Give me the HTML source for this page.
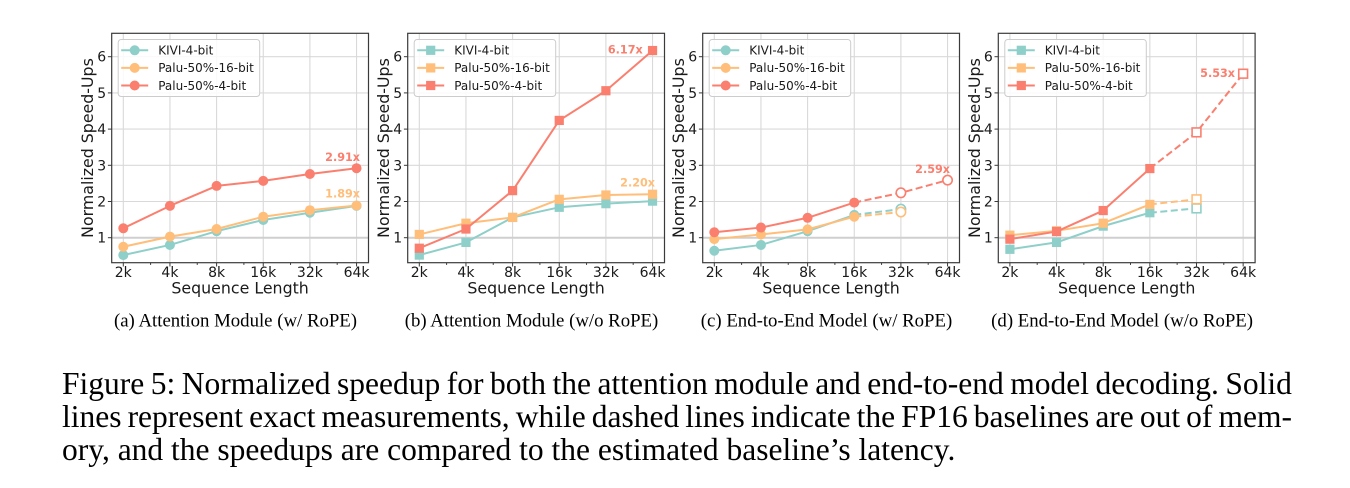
<!DOCTYPE html>
<html>
<head>
<meta charset="utf-8">
<style>
  html, body { margin:0; padding:0; background:#fff; }
  body { width:1350px; height:488px; position:relative; overflow:hidden; }
  svg { position:absolute; left:0; top:0; }
  .cap { position:absolute; left:62px; width:1230px; font-family:"Liberation Serif", serif; font-size:31.5px; line-height:31.5px; color:#000; white-space:nowrap; }
  .just { display:flex; justify-content:space-between; }
  .tick { font-family:"DejaVu Sans", "Liberation Sans", sans-serif; font-size:14px; fill:#1a1a1a; }
  .lab { font-family:"DejaVu Sans", "Liberation Sans", sans-serif; font-size:15.8px; fill:#1a1a1a; }
  .leg { font-family:"DejaVu Sans", "Liberation Sans", sans-serif; font-size:12px; fill:#1a1a1a; }
  .val { font-family:"DejaVu Sans", "Liberation Sans", sans-serif; font-size:11.2px; font-weight:bold; }
  .sub { font-family:"Liberation Serif", serif; font-size:18.8px; fill:#000; }
  .grid { stroke:#d9d9d9; stroke-width:1.1; fill:none; }
  .spine { stroke:#3a3a3a; stroke-width:1.2; fill:none; }
  .tk { stroke:#3a3a3a; stroke-width:1; }
  .k { stroke:#8ECFC9; }
  .o { stroke:#FFBE7A; }
  .r { stroke:#FA7F6F; }
  .ln { fill:none; stroke-width:2; stroke-linejoin:round; }
  .ds { fill:none; stroke-width:2; stroke-dasharray:7 3.5; }
</style>
</head>
<body>
<svg width="1350" height="488" viewBox="0 0 1350 488" xmlns="http://www.w3.org/2000/svg">
  <defs>
    <g id="frame">
      <line class="grid" x1="11.6" y1="33.3" x2="11.6" y2="262.7"/>
      <line class="grid" x1="58.25" y1="33.3" x2="58.25" y2="262.7"/>
      <line class="grid" x1="104.9" y1="33.3" x2="104.9" y2="262.7"/>
      <line class="grid" x1="151.55" y1="33.3" x2="151.55" y2="262.7"/>
      <line class="grid" x1="198.2" y1="33.3" x2="198.2" y2="262.7"/>
      <line class="grid" x1="244.85" y1="33.3" x2="244.85" y2="262.7"/>
      <line class="grid" x1="0" y1="237.7" x2="256.8" y2="237.7" style="stroke:#cfcfcf;stroke-width:2"/>
      <line class="grid" x1="0" y1="201.5" x2="256.8" y2="201.5"/>
      <line class="grid" x1="0" y1="165.3" x2="256.8" y2="165.3"/>
      <line class="grid" x1="0" y1="129.1" x2="256.8" y2="129.1"/>
      <line class="grid" x1="0" y1="92.9" x2="256.8" y2="92.9"/>
      <line class="grid" x1="0" y1="56.7" x2="256.8" y2="56.7"/>
      <line class="tk" x1="11.6" y1="262.7" x2="11.6" y2="266.5"/>
      <line class="tk" x1="58.25" y1="262.7" x2="58.25" y2="266.5"/>
      <line class="tk" x1="104.9" y1="262.7" x2="104.9" y2="266.5"/>
      <line class="tk" x1="151.55" y1="262.7" x2="151.55" y2="266.5"/>
      <line class="tk" x1="198.2" y1="262.7" x2="198.2" y2="266.5"/>
      <line class="tk" x1="244.85" y1="262.7" x2="244.85" y2="266.5"/>
      <line class="tk" x1="38.89" y1="262.7" x2="38.89" y2="264.9"/>
      <line class="tk" x1="85.54" y1="262.7" x2="85.54" y2="264.9"/>
      <line class="tk" x1="132.19" y1="262.7" x2="132.19" y2="264.9"/>
      <line class="tk" x1="178.84" y1="262.7" x2="178.84" y2="264.9"/>
      <line class="tk" x1="225.49" y1="262.7" x2="225.49" y2="264.9"/>
      <line class="tk" x1="-3.8" y1="237.7" x2="0" y2="237.7"/>
      <line class="tk" x1="-3.8" y1="201.5" x2="0" y2="201.5"/>
      <line class="tk" x1="-3.8" y1="165.3" x2="0" y2="165.3"/>
      <line class="tk" x1="-3.8" y1="129.1" x2="0" y2="129.1"/>
      <line class="tk" x1="-3.8" y1="92.9" x2="0" y2="92.9"/>
      <line class="tk" x1="-3.8" y1="56.7" x2="0" y2="56.7"/>
      <rect class="spine" x="0" y="33.3" width="256.8" height="229.4"/>
      <text class="tick" x="11.6" y="277" text-anchor="middle">2k</text>
      <text class="tick" x="58.25" y="277" text-anchor="middle">4k</text>
      <text class="tick" x="104.9" y="277" text-anchor="middle">8k</text>
      <text class="tick" x="151.55" y="277" text-anchor="middle">16k</text>
      <text class="tick" x="198.2" y="277" text-anchor="middle">32k</text>
      <text class="tick" x="244.85" y="277" text-anchor="middle">64k</text>
      <text class="tick" x="-5.5" y="242.7" text-anchor="end">1</text>
      <text class="tick" x="-5.5" y="206.5" text-anchor="end">2</text>
      <text class="tick" x="-5.5" y="170.3" text-anchor="end">3</text>
      <text class="tick" x="-5.5" y="134.1" text-anchor="end">4</text>
      <text class="tick" x="-5.5" y="97.9" text-anchor="end">5</text>
      <text class="tick" x="-5.5" y="61.7" text-anchor="end">6</text>
      <text class="lab" x="128.4" y="293.5" text-anchor="middle">Sequence Length</text>
      <text class="lab" transform="translate(-18.5,148) rotate(-90)" text-anchor="middle">Normalized Speed-Ups</text>
      <rect x="6.5" y="39.5" width="141.5" height="57" rx="3" ry="3" fill="#ffffff" fill-opacity="0.85" stroke="#cccccc" stroke-width="1"/>
      <line class="k" x1="9.5" y1="50.3" x2="36.5" y2="50.3" stroke-width="2"/>
      <line class="o" x1="9.5" y1="67.9" x2="36.5" y2="67.9" stroke-width="2"/>
      <line class="r" x1="9.5" y1="85.5" x2="36.5" y2="85.5" stroke-width="2"/>
      <text class="leg" x="46.5" y="54.6">KIVI-4-bit</text>
      <text class="leg" x="46.5" y="72.2">Palu-50%-16-bit</text>
      <text class="leg" x="46.5" y="89.8">Palu-50%-4-bit</text>
    </g>
  </defs>

  <!-- Panel a -->
  <g transform="translate(111.7,0)">
    <use href="#frame"/>
    <circle cx="23" cy="50.3" r="5" fill="#8ECFC9"/>
    <circle cx="23" cy="67.9" r="5" fill="#FFBE7A"/>
    <circle cx="23" cy="85.5" r="5" fill="#FA7F6F"/>
    <polyline class="ln k" points="11.6,255.08 58.25,244.94 104.9,231.18 151.55,219.96 198.2,212.72 244.85,205.84"/>
    <g fill="#8ECFC9">
      <circle cx="11.6" cy="255.08" r="5"/><circle cx="58.25" cy="244.94" r="5"/><circle cx="104.9" cy="231.18" r="5"/>
      <circle cx="151.55" cy="219.96" r="5"/><circle cx="198.2" cy="212.72" r="5"/><circle cx="244.85" cy="205.84" r="5"/>
    </g>
    <polyline class="ln o" points="11.6,246.75 58.25,236.61 104.9,229.01 151.55,216.7 198.2,210.19 244.85,205.48"/>
    <g fill="#FFBE7A">
      <circle cx="11.6" cy="246.75" r="5"/><circle cx="58.25" cy="236.61" r="5"/><circle cx="104.9" cy="229.01" r="5"/>
      <circle cx="151.55" cy="216.7" r="5"/><circle cx="198.2" cy="210.19" r="5"/><circle cx="244.85" cy="205.48" r="5"/>
    </g>
    <polyline class="ln r" points="11.6,228.29 58.25,205.84 104.9,185.93 151.55,180.87 198.2,173.99 244.85,168.2"/>
    <g fill="#FA7F6F">
      <circle cx="11.6" cy="228.29" r="5"/><circle cx="58.25" cy="205.84" r="5"/><circle cx="104.9" cy="185.93" r="5"/>
      <circle cx="151.55" cy="180.87" r="5"/><circle cx="198.2" cy="173.99" r="5"/><circle cx="244.85" cy="168.2" r="5"/>
    </g>
    <text class="val" x="248.3" y="161" text-anchor="end" fill="#FA7F6F">2.91x</text>
    <text class="val" x="248.3" y="197.5" text-anchor="end" fill="#FFBE7A">1.89x</text>
    <text class="sub" x="123.8" y="326.5" text-anchor="middle">(a) Attention Module (w/ RoPE)</text>
  </g>

  <!-- Panel b -->
  <g transform="translate(407.7,0)">
    <use href="#frame"/>
    <rect x="18.4" y="45.7" width="9.2" height="9.2" fill="#8ECFC9"/>
    <rect x="18.4" y="63.3" width="9.2" height="9.2" fill="#FFBE7A"/>
    <rect x="18.4" y="80.9" width="9.2" height="9.2" fill="#FA7F6F"/>
    <polyline class="ln k" points="11.6,255.08 58.25,242.41 104.9,217.43 151.55,207.29 198.2,203.67 244.85,201.14"/>
    <g fill="#8ECFC9">
      <rect x="7" y="250.48" width="9.2" height="9.2"/><rect x="53.65" y="237.81" width="9.2" height="9.2"/><rect x="100.3" y="212.83" width="9.2" height="9.2"/>
      <rect x="146.95" y="202.69" width="9.2" height="9.2"/><rect x="193.6" y="199.07" width="9.2" height="9.2"/><rect x="240.25" y="196.54" width="9.2" height="9.2"/>
    </g>
    <polyline class="ln o" points="11.6,234.44 58.25,223.22 104.9,217.43 151.55,199.33 198.2,195 244.85,194.26"/>
    <g fill="#FFBE7A">
      <rect x="7" y="229.84" width="9.2" height="9.2"/><rect x="53.65" y="218.62" width="9.2" height="9.2"/><rect x="100.3" y="212.83" width="9.2" height="9.2"/>
      <rect x="146.95" y="194.73" width="9.2" height="9.2"/><rect x="193.6" y="190.4" width="9.2" height="9.2"/><rect x="240.25" y="189.66" width="9.2" height="9.2"/>
    </g>
    <polyline class="ln r" points="11.6,248.2 58.25,229.01 104.9,190.64 151.55,120.41 198.2,90.73 244.85,50.55"/>
    <g fill="#FA7F6F">
      <rect x="7" y="243.6" width="9.2" height="9.2"/><rect x="53.65" y="224.41" width="9.2" height="9.2"/><rect x="100.3" y="186.04" width="9.2" height="9.2"/>
      <rect x="146.95" y="115.81" width="9.2" height="9.2"/><rect x="193.6" y="86.13" width="9.2" height="9.2"/><rect x="240.25" y="45.95" width="9.2" height="9.2"/>
    </g>
    <text class="val" x="235" y="53.3" text-anchor="end" fill="#FA7F6F">6.17x</text>
    <text class="val" x="247.3" y="186.5" text-anchor="end" fill="#FFBE7A">2.20x</text>
    <text class="sub" x="123.8" y="326.5" text-anchor="middle">(b) Attention Module (w/o RoPE)</text>
  </g>

  <!-- Panel c -->
  <g transform="translate(702.7,0)">
    <use href="#frame"/>
    <circle cx="23" cy="50.3" r="5" fill="#8ECFC9"/>
    <circle cx="23" cy="67.9" r="5" fill="#FFBE7A"/>
    <circle cx="23" cy="85.5" r="5" fill="#FA7F6F"/>
    <polyline class="ln k" points="11.6,250.73 58.25,244.94 104.9,231.18 151.55,214.89"/>
    <line class="ds k" x1="151.55" y1="214.89" x2="198.2" y2="209.1"/>
    <g fill="#8ECFC9">
      <circle cx="11.6" cy="250.73" r="5"/><circle cx="58.25" cy="244.94" r="5"/><circle cx="104.9" cy="231.18" r="5"/><circle cx="151.55" cy="214.89" r="5"/>
    </g>
    <circle cx="198.2" cy="209.1" r="4.7" fill="#fff" stroke="#8ECFC9" stroke-width="1.6"/>
    <polyline class="ln o" points="11.6,239.15 58.25,234.44 104.9,229.37 151.55,216.7"/>
    <line class="ds o" x1="151.55" y1="216.7" x2="198.2" y2="212"/>
    <g fill="#FFBE7A">
      <circle cx="11.6" cy="239.15" r="5"/><circle cx="58.25" cy="234.44" r="5"/><circle cx="104.9" cy="229.37" r="5"/><circle cx="151.55" cy="216.7" r="5"/>
    </g>
    <circle cx="198.2" cy="212" r="4.7" fill="#fff" stroke="#FFBE7A" stroke-width="1.6"/>
    <polyline class="ln r" points="11.6,232.27 58.25,227.56 104.9,217.79 151.55,202.59"/>
    <polyline class="ds r" points="151.55,202.59 198.2,192.81 244.85,180.14"/>
    <g fill="#FA7F6F">
      <circle cx="11.6" cy="232.27" r="5"/><circle cx="58.25" cy="227.56" r="5"/><circle cx="104.9" cy="217.79" r="5"/><circle cx="151.55" cy="202.59" r="5"/>
    </g>
    <circle cx="198.2" cy="192.81" r="4.7" fill="#fff" stroke="#FA7F6F" stroke-width="1.6"/>
    <circle cx="244.85" cy="180.14" r="4.7" fill="#fff" stroke="#FA7F6F" stroke-width="1.6"/>
    <text class="val" x="247.3" y="173" text-anchor="end" fill="#FA7F6F">2.59x</text>
    <text class="sub" x="123.8" y="326.5" text-anchor="middle">(c) End-to-End Model (w/ RoPE)</text>
  </g>

  <!-- Panel d -->
  <g transform="translate(998.3,0)">
    <use href="#frame"/>
    <rect x="18.4" y="45.7" width="9.2" height="9.2" fill="#8ECFC9"/>
    <rect x="18.4" y="63.3" width="9.2" height="9.2" fill="#FFBE7A"/>
    <rect x="18.4" y="80.9" width="9.2" height="9.2" fill="#FA7F6F"/>
    <polyline class="ln k" points="11.6,249.28 58.25,242.41 104.9,226.12 151.55,212.72"/>
    <line class="ds k" x1="151.55" y1="212.72" x2="198.2" y2="208.38"/>
    <g fill="#8ECFC9">
      <rect x="7" y="244.68" width="9.2" height="9.2"/><rect x="53.65" y="237.81" width="9.2" height="9.2"/><rect x="100.3" y="221.52" width="9.2" height="9.2"/><rect x="146.95" y="208.12" width="9.2" height="9.2"/>
    </g>
    <rect x="193.8" y="203.98" width="8.8" height="8.8" fill="#fff" stroke="#8ECFC9" stroke-width="1.6"/>
    <polyline class="ln o" points="11.6,235.17 58.25,230.82 104.9,223.22 151.55,204.4"/>
    <line class="ds o" x1="151.55" y1="204.4" x2="198.2" y2="199.33"/>
    <g fill="#FFBE7A">
      <rect x="7" y="230.57" width="9.2" height="9.2"/><rect x="53.65" y="226.22" width="9.2" height="9.2"/><rect x="100.3" y="218.62" width="9.2" height="9.2"/><rect x="146.95" y="199.8" width="9.2" height="9.2"/>
    </g>
    <rect x="193.8" y="194.93" width="8.8" height="8.8" fill="#fff" stroke="#FFBE7A" stroke-width="1.6"/>
    <polyline class="ln r" points="11.6,239.15 58.25,231.55 104.9,210.55 151.55,168.56"/>
    <polyline class="ds r" points="151.55,168.56 198.2,132.36 244.85,73.71"/>
    <g fill="#FA7F6F">
      <rect x="7" y="234.55" width="9.2" height="9.2"/><rect x="53.65" y="226.95" width="9.2" height="9.2"/><rect x="100.3" y="205.95" width="9.2" height="9.2"/><rect x="146.95" y="163.96" width="9.2" height="9.2"/>
    </g>
    <rect x="193.8" y="127.96" width="8.8" height="8.8" fill="#fff" stroke="#FA7F6F" stroke-width="1.6"/>
    <rect x="240.45" y="69.31" width="8.8" height="8.8" fill="#fff" stroke="#FA7F6F" stroke-width="1.6"/>
    <text class="val" x="236.7" y="77" text-anchor="end" fill="#FA7F6F">5.53x</text>
    <text class="sub" x="123.8" y="326.5" text-anchor="middle">(d) End-to-End Model (w/o RoPE)</text>
  </g>
</svg>

<div class="cap just" style="top:368px;">
  <span>Figure</span><span>5:</span><span>Normalized</span><span>speedup</span><span>for</span><span>both</span><span>the</span><span>attention</span><span>module</span><span>and</span><span>end-to-end</span><span>model</span><span>decoding.</span><span>Solid</span>
</div>
<div class="cap just" style="top:401px;">
  <span>lines</span><span>represent</span><span>exact</span><span>measurements,</span><span>while</span><span>dashed</span><span>lines</span><span>indicate</span><span>the</span><span>FP16</span><span>baselines</span><span>are</span><span>out</span><span>of</span><span>mem-</span>
</div>
<div class="cap" style="top:434px;">ory, and the speedups are compared to the estimated baseline’s latency.</div>
</body>
</html>
